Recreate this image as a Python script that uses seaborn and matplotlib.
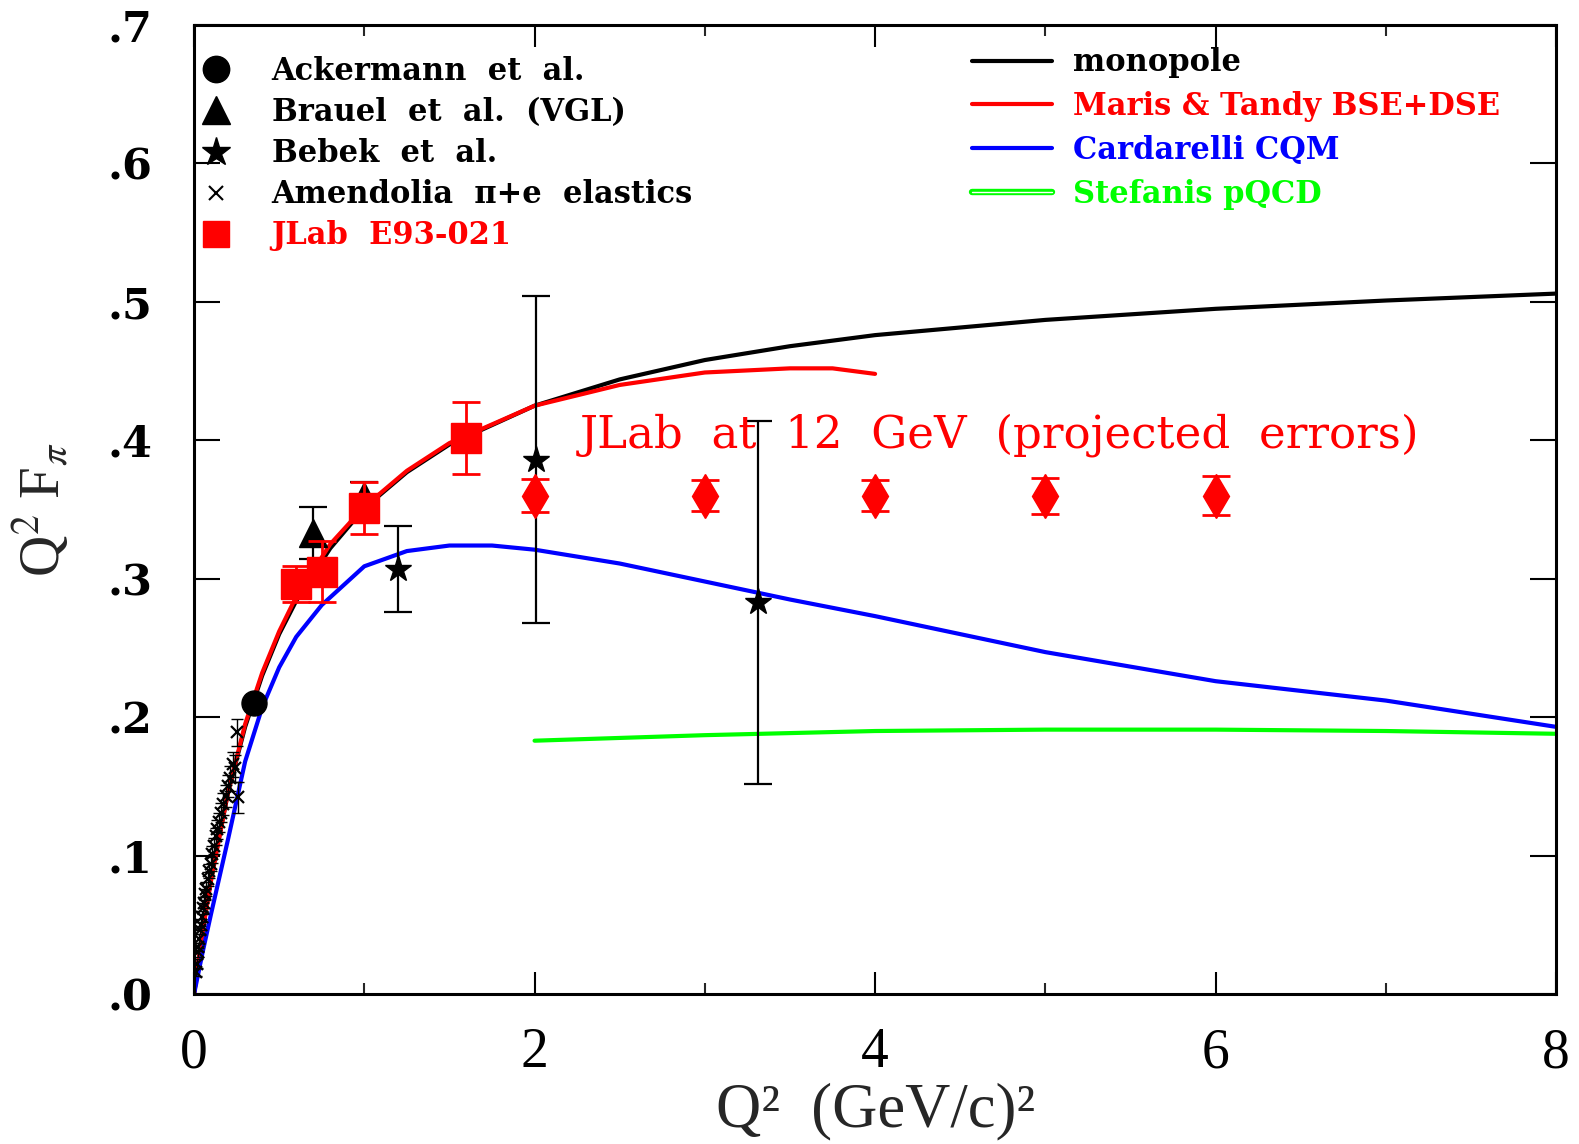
import matplotlib
matplotlib.use("Agg")
import matplotlib.pyplot as plt
from matplotlib.lines import Line2D
import matplotlib.patheffects as pe
import numpy as np
import pandas as pd
import seaborn as sns

# ---------------- data ----------------
# model curves: Q^2 (GeV/c)^2 vs Q^2 F_pi
mono_q2 = [0.0, 0.05, 0.1, 0.2, 0.3, 0.4, 0.5, 0.6, 0.8, 1.0, 1.25, 1.5, 2.0, 2.5, 3.0, 3.5, 4.0, 5.0, 6.0, 7.0, 8.0]
mono_val = [0.0, 0.046, 0.084, 0.146, 0.193, 0.230, 0.260, 0.284, 0.322, 0.351, 0.377, 0.397, 0.425, 0.444, 0.458, 0.468, 0.476, 0.487, 0.495, 0.501, 0.506]

maris_q2 = [0.0, 0.05, 0.1, 0.2, 0.3, 0.4, 0.5, 0.6, 0.8, 1.0, 1.25, 1.5, 2.0, 2.5, 3.0, 3.5, 3.75, 4.0]
maris_val = [0.0, 0.045, 0.082, 0.146, 0.195, 0.232, 0.262, 0.287, 0.325, 0.352, 0.378, 0.398, 0.425, 0.440, 0.449, 0.452, 0.452, 0.448]

card_q2 = [0.0, 0.05, 0.1, 0.2, 0.3, 0.4, 0.5, 0.6, 0.75, 1.0, 1.25, 1.5, 1.75, 2.0, 2.5, 3.0, 3.5, 4.0, 5.0, 6.0, 7.0, 8.0]
card_val = [0.0, 0.030, 0.058, 0.112, 0.168, 0.207, 0.236, 0.258, 0.281, 0.309, 0.320, 0.324, 0.324, 0.321, 0.311, 0.298, 0.285, 0.273, 0.247, 0.226, 0.212, 0.193]

stef_q2 = [2.0, 3.0, 4.0, 5.0, 6.0, 7.0, 8.0]
stef_val = [0.183, 0.187, 0.190, 0.191, 0.191, 0.190, 0.188]

# measurements
ack_q2, ack_val, ack_err = [0.35], [0.210], [0.006]
brauel_q2, brauel_val, brauel_err = [0.70, 1.00], [0.333, 0.360], [0.019, 0.010]
bebek_q2, bebek_val, bebek_err = [1.20, 2.01, 3.31], [0.307, 0.386, 0.283], [0.031, 0.118, 0.131]
amen_q2 = [0.014, 0.018, 0.022, 0.026, 0.030, 0.035, 0.040, 0.046, 0.052, 0.058, 0.065, 0.072,
           0.080, 0.088, 0.097, 0.106, 0.116, 0.126, 0.137, 0.148, 0.160, 0.172, 0.185, 0.198,
           0.212, 0.226, 0.240, 0.253, 0.256]
amen_val = [0.016, 0.022, 0.030, 0.034, 0.040, 0.046, 0.050, 0.056, 0.062, 0.066, 0.072, 0.076,
            0.083, 0.089, 0.094, 0.101, 0.107, 0.114, 0.119, 0.124, 0.131, 0.137, 0.143, 0.150,
            0.156, 0.166, 0.163, 0.189, 0.142]
amen_err = [0.003, 0.003, 0.003, 0.003, 0.003, 0.003, 0.004, 0.004, 0.004, 0.004, 0.004, 0.005,
            0.005, 0.005, 0.005, 0.006, 0.006, 0.006, 0.007, 0.007, 0.007, 0.008, 0.008, 0.008,
            0.009, 0.009, 0.010, 0.010, 0.011]
e93_q2, e93_val, e93_err = [0.60, 0.75, 1.00, 1.60], [0.296, 0.305, 0.351, 0.402], [0.013, 0.022, 0.019, 0.026]
proj_q2 = [2.0, 3.0, 4.0, 5.0, 6.0]
proj_val = [0.360, 0.360, 0.360, 0.360, 0.360]
proj_err = [0.012, 0.011, 0.011, 0.013, 0.014]

x_ticks = [0, 2, 4, 6, 8]
x_tick_labels = ["0", "2", "4", "6", "8"]
y_ticks = [0.0, 0.1, 0.2, 0.3, 0.4, 0.5, 0.6, 0.7]
y_tick_labels = [".0", ".1", ".2", ".3", ".4", ".5", ".6", ".7"]

RED, BLUE, GREEN, BLACK = "#ff0000", "#0000ff", "#00ff00", "#000000"

# ---------------- style ----------------
sns.set_theme(style="ticks")
plt.rcParams["font.family"] = ["Liberation Serif", "DejaVu Serif"]
plt.rcParams["mathtext.fontset"] = "stix"
WIDE = ["DejaVu Serif", "Liberation Serif"]

fig = plt.figure(figsize=(15.79, 11.44), dpi=100)
ax = fig.add_axes([0.1229, 0.1311, 0.8626, 0.847])

# ---------------- curves ----------------
curves = [
    (mono_q2, mono_val, BLACK, "monopole"),
    (maris_q2, maris_val, RED, "Maris & Tandy BSE+DSE"),
    (card_q2, card_val, BLUE, "Cardarelli CQM"),
    (stef_q2, stef_val, GREEN, "Stefanis pQCD"),
]
for xs, ys, col, name in curves:
    df = pd.DataFrame({"q2": xs, "val": ys})
    sns.lineplot(data=df, x="q2", y="val", color=col, linewidth=3.0,
                 estimator=None, sort=False, ax=ax, zorder=2)

# ---------------- measurements ----------------
eb = dict(fmt="none", elinewidth=1.6, capthick=1.6, zorder=3)
ax.errorbar(amen_q2, amen_val, yerr=amen_err, ecolor=BLACK, capsize=4, elinewidth=1.0, capthick=1.0, fmt="none", zorder=3)
ax.plot(amen_q2, amen_val, ls="none", marker="x", ms=8, mew=1.6, color=BLACK, zorder=4)

ax.errorbar(ack_q2, ack_val, yerr=ack_err, ecolor=BLACK, capsize=6, **eb)
ax.plot(ack_q2, ack_val, ls="none", marker="o", ms=18, color=BLACK, zorder=4)

ax.errorbar(brauel_q2, brauel_val, yerr=brauel_err, ecolor=BLACK, capsize=10, **eb)
ax.plot(brauel_q2, brauel_val, ls="none", marker="^", ms=20, color=BLACK, zorder=4)

ax.errorbar(bebek_q2, bebek_val, yerr=bebek_err, ecolor=BLACK, capsize=10, **eb)
ax.plot(bebek_q2, bebek_val, ls="none", marker="*", ms=20, color=BLACK, zorder=4)

ax.errorbar(e93_q2, e93_val, yerr=e93_err, ecolor=RED, capsize=10, elinewidth=2, capthick=2, fmt="none", zorder=5)
ax.plot(e93_q2, e93_val, ls="none", marker="s", ms=21, color=RED, zorder=6)

ax.errorbar(proj_q2, proj_val, yerr=proj_err, ecolor=RED, capsize=10, elinewidth=2, capthick=2, fmt="none", zorder=5)
ax.plot(proj_q2, proj_val, ls="none", marker="d", ms=22, color=RED, zorder=6)

ax.text(2.265, 0.395, "JLab  at  12  GeV  (projected  errors)", color=RED, fontsize=32.5,
        family=WIDE, ha="left", va="baseline", zorder=7)

# ---------------- axes ----------------
ax.set_xlim(0, 8)
ax.set_ylim(0, 0.7)
ax.set_xticks(x_ticks)
ax.set_xticklabels(x_tick_labels, fontsize=40)
ax.set_xticks([1, 3, 5, 7], minor=True)
ax.set_yticks(y_ticks)
ax.set_yticklabels(y_tick_labels, fontsize=31, fontweight="bold", family=WIDE)
ax.tick_params(axis="x", which="major", direction="in", length=16, width=1.5,
               top=True, bottom=True, pad=24, colors=BLACK)
ax.tick_params(axis="x", which="minor", direction="in", length=8, width=1.5,
               top=True, bottom=True)
ax.tick_params(axis="y", which="major", direction="in", length=19, width=1.5,
               left=True, right=True, pad=30, colors=BLACK)
for sp in ax.spines.values():
    sp.set_visible(True)
    sp.set_linewidth(2.2)
    sp.set_color(BLACK)

ax.set_xlabel("Q²  (GeV/c)²", fontsize=45, labelpad=2)
ax.set_ylabel(r"Q$^2$ F$_\pi$", fontsize=41)
ax.yaxis.set_label_coords(-0.09, 0.5)

# ---------------- legends ----------------
mk_handles = [
    Line2D([], [], ls="none", marker="o", ms=19, color=BLACK),
    Line2D([], [], ls="none", marker="^", ms=20, color=BLACK),
    Line2D([], [], ls="none", marker="*", ms=21, color=BLACK),
    Line2D([], [], ls="none", marker="x", ms=10, mew=1.5, color=BLACK),
    Line2D([], [], ls="none", marker="s", ms=19, color=RED),
]
mk_labels = ["Ackermann  et  al.", "Brauel  et  al.  (VGL)", "Bebek  et  al.",
             "Amendolia  π+e  elastics", "JLab  E93-021"]
mk_colors = [BLACK, BLACK, BLACK, BLACK, RED]
leg_font = {"family": WIDE, "weight": "bold", "size": 22}
leg1 = ax.legend(mk_handles, mk_labels, loc="upper left", bbox_to_anchor=(0.004, 0.968),
                 frameon=False, handlelength=1.08, handletextpad=1.28,
                 labelspacing=0.33, borderpad=0, borderaxespad=0, prop=leg_font)
for t, c in zip(leg1.get_texts(), mk_colors):
    t.set_color(c)
ax.add_artist(leg1)

ln_handles = [Line2D([], [], color=c, lw=3.0) for _, _, c, _ in curves[:3]]
ln_handles.append(Line2D([], [], color="white", lw=1.0,
                         path_effects=[pe.Stroke(linewidth=4.6, foreground=GREEN), pe.Normal()]))
ln_labels = [n for _, _, _, n in curves]
leg2 = ax.legend(ln_handles, ln_labels, loc="upper left", bbox_to_anchor=(0.5714, 0.977),
                 frameon=False, handlelength=2.6, handletextpad=0.7,
                 labelspacing=0.42, borderpad=0, borderaxespad=0, prop=leg_font)
for t, (_, _, c, _) in zip(leg2.get_texts(), curves):
    t.set_color(c)

fig.savefig("out.png", dpi=100)
